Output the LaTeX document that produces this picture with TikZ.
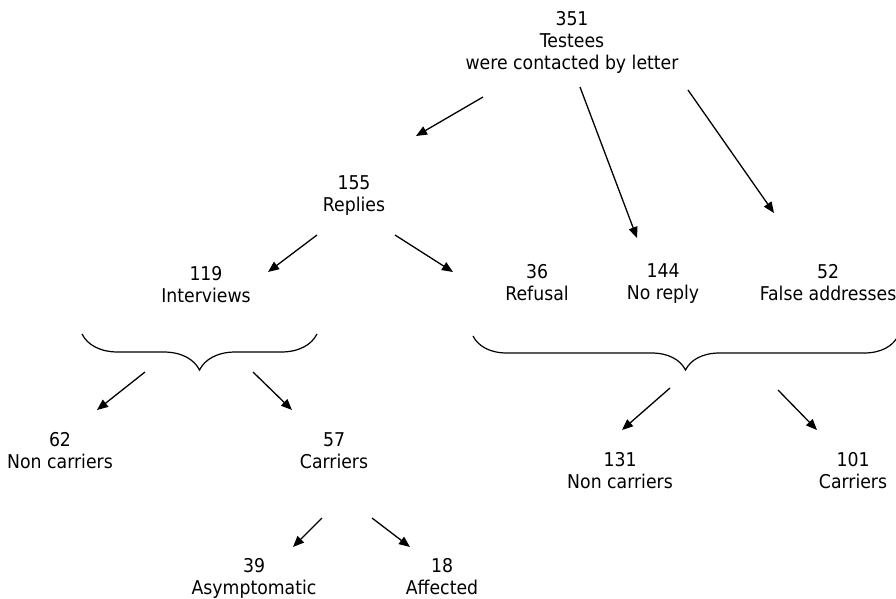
\documentclass[tikz,border=0pt]{standalone}
\usepackage{fontspec}
\setmainfont{DejaVu Sans}[FakeStretch=0.91]
\usepackage{tikz}
\usetikzlibrary{arrows.meta, decorations.pathreplacing}

\begin{document}
\begin{tikzpicture}[x=1pt, y=-1pt,
    lbl/.style={align=center, inner sep=0pt, font=\fontsize{19}{22}\selectfont},
    arr/.style={line width=1.3pt, -{Triangle[length=11pt, width=9pt]}},
    grp/.style={line width=1.2pt, decorate, decoration={brace, mirror, amplitude=#1}}]
    \useasboundingbox (0,0) rectangle (896,598);

    % Counts
    \node[lbl] (top) at (572,42) {351\\Testees\\were contacted by letter};
    \node[lbl] (replies) at (354,196) {155\\Replies};
    \node[lbl] (interviews) at (206,285) {119\\Interviews};
    \node[lbl] (refusal) at (537,283) {36\\Refusal};
    \node[lbl] (noreply) at (663,284) {144\\No reply};
    \node[lbl] (falseaddr) at (828,283) {52\\False addresses};
    \node[lbl] (noncarrA) at (60,451) {62\\Non carriers};
    \node[lbl] (carrA) at (334,451) {57\\Carriers};
    \node[lbl] (asympt) at (254,578) {39\\Asymptomatic};
    \node[lbl] (affected) at (442,577) {18\\Affected};
    \node[lbl] (noncarrB) at (620,471) {131\\Non carriers};
    \node[lbl] (carrB) at (853,471) {101\\Carriers};

    % Braces
    \draw[grp=36pt] (82,334) -- (317,334) coordinate[pos=0.5] (tipA);
    \draw[grp=34pt] (473,336) -- (898,336) coordinate[pos=0.5] (tipB);

    % Arrow ends
    \coordinate (t1) at (483,97);   \coordinate (h1) at (416,136);
    \coordinate (t2) at (580,87);   \coordinate (h2) at (637,238);
    \coordinate (t3) at (688,90);   \coordinate (h3) at (774,213);
    \coordinate (t4) at (317,235);  \coordinate (h4) at (268,272);
    \coordinate (t5) at (395,235);  \coordinate (h5) at (453,272);
    \coordinate (t6) at (145,372);  \coordinate (h6) at (97,410);
    \coordinate (t7) at (253,372);  \coordinate (h7) at (292,410);
    \coordinate (t8) at (322,518);  \coordinate (h8) at (293,547);
    \coordinate (t9) at (372,518);  \coordinate (h9) at (410,547);
    \coordinate (t10) at (670,388); \coordinate (h10) at (622,430);
    \coordinate (t11) at (778,390); \coordinate (h11) at (817,430);

    % Arrows
    \draw[arr] (t1) -- (h1);
    \draw[arr] (t2) -- (h2);
    \draw[arr] (t3) -- (h3);
    \draw[arr] (t4) -- (h4);
    \draw[arr] (t5) -- (h5);
    \draw[arr] (t6) -- (h6);
    \draw[arr] (t7) -- (h7);
    \draw[arr] (t8) -- (h8);
    \draw[arr] (t9) -- (h9);
    \draw[arr] (t10) -- (h10);
    \draw[arr] (t11) -- (h11);
\end{tikzpicture}
\end{document}
